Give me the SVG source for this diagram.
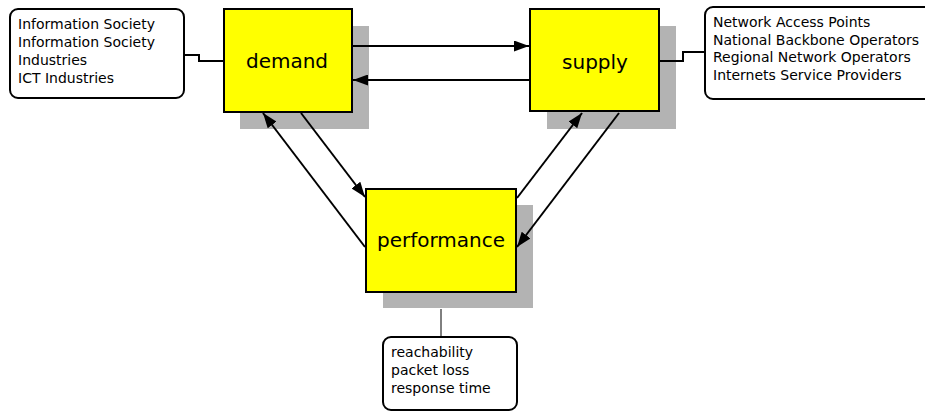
<svg xmlns="http://www.w3.org/2000/svg" width="925" height="414" viewBox="0 0 925 414">
<style>
.shadow{fill:#b3b3b3}
.box{fill:#ffff00;stroke:#000;stroke-width:2}
.note{fill:#fff;stroke:#000;stroke-width:2}
.big{font-family:"Comic Sans MS","DejaVu Sans",sans-serif;font-size:20px;fill:#000;text-anchor:middle}
.small{font-family:"Comic Sans MS","DejaVu Sans",sans-serif;font-size:14px;fill:#000}
.arr{stroke:#000;stroke-width:2;fill:none;marker-end:url(#ah)}
.link{stroke:#000;stroke-width:2;fill:none}
</style>
<defs>
<marker id="ah" viewBox="0 0 15 11" refX="15" refY="5.5" markerWidth="15" markerHeight="11" markerUnits="userSpaceOnUse" orient="auto">
<path d="M0,0 L15,5.5 L0,11 z" fill="#000"/>
</marker>
</defs>
<rect width="925" height="414" fill="#fff"/>
<g id="demand">
<rect class="shadow" x="240" y="26" width="129" height="103"/>
<rect class="box" x="224" y="9" width="128" height="103"/>
<text class="big" x="287" y="68">demand</text>
</g>
<g id="supply">
<rect class="shadow" x="547" y="26" width="129" height="103"/>
<rect class="box" x="530" y="9" width="129" height="102"/>
<text class="big" x="595" y="69">supply</text>
</g>
<g id="performance">
<rect class="shadow" x="383" y="205" width="150" height="103"/>
<rect class="box" x="366" y="189" width="150" height="103"/>
<text class="big" x="441" y="247">performance</text>
</g>
<g id="demand-note">
<rect class="note" x="10" y="9" width="174" height="89" rx="8"/>
<text class="small" x="18" y="29">Information Society</text>
<text class="small" x="18" y="47">Information Society</text>
<text class="small" x="18" y="65">Industries</text>
<text class="small" x="18" y="83">ICT Industries</text>
</g>
<g id="supply-note">
<rect class="note" x="705" y="7" width="240" height="92" rx="8"/>
<text class="small" x="713" y="27">Network Access Points</text>
<text class="small" x="713" y="45">National Backbone Operators</text>
<text class="small" x="713" y="62">Regional Network Operators</text>
<text class="small" x="713" y="80">Internets Service Providers</text>
</g>
<g id="performance-note">
<rect class="note" x="383" y="337" width="134" height="73" rx="8"/>
<text class="small" x="391" y="357">reachability</text>
<text class="small" x="391" y="375">packet loss</text>
<text class="small" x="391" y="393">response time</text>
</g>
<g id="connectors">
<path class="link" d="M184,55 H199 V61 H223"/>
<path class="link" d="M660,61 H683 V52 H704"/>
<path d="M441,309 V336" stroke="#000" stroke-width="1" fill="none"/>
<path class="arr" d="M353,46 L529,46"/>
<path class="arr" d="M529,80 L353,80"/>
<path class="arr" d="M301,113 L365,197"/>
<path class="arr" d="M365,247 L263,113"/>
<path class="arr" d="M517,198 L582,113"/>
<path class="arr" d="M619,113 L517,247"/>
</g>
</svg>
